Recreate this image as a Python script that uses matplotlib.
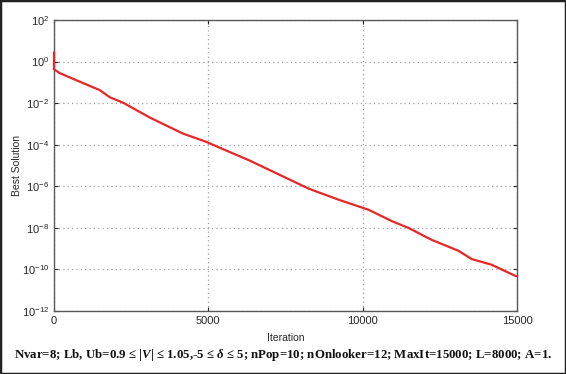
import matplotlib.pyplot as plt
import matplotlib.patches as mpatches
import numpy as np

# values (iteration, best solution)
iteration = [0, 0, 190, 950, 1480, 1810, 2240, 3100, 4170, 4930, 5360, 6320,
             8260, 9230, 10190, 10950, 11480, 12240, 13100, 13530, 14170, 14930, 15000]
best_log = [0.43, -0.37, -0.56, -1.04, -1.37, -1.72, -1.98, -2.69, -3.46, -3.86, -4.14, -4.75,
            -6.12, -6.65, -7.13, -7.68, -8.0, -8.58, -9.10, -9.5, -9.77, -10.3, -10.33]
best = [10 ** v for v in best_log]

xticks = [0, 5000, 10000, 15000]
yticks = [1e2, 1e0, 1e-2, 1e-4, 1e-6, 1e-8, 1e-10, 1e-12]

caption = ("Nvar=8; Lb, Ub=0.9 \u2264 |$V$| \u2264 1.05,-5 \u2264 $\\delta$ \u2264 5; "
           "nPop=10; nOnlooker=12; MaxIt=15000; L=8000; A=1.")

plt.rcParams['font.family'] = ['Liberation Sans', 'DejaVu Sans']
plt.rcParams['mathtext.fontset'] = 'custom'
plt.rcParams['mathtext.rm'] = 'Liberation Sans'
plt.rcParams['mathtext.it'] = 'Liberation Serif:italic:bold'

fig = plt.figure(figsize=(5.66, 3.74), dpi=100)
ax = fig.add_axes([54 / 566, 1 - 311 / 374, (517 - 54) / 566, (311 - 20) / 374])

ax.plot(iteration, best, color='#e8262a', lw=1.6, clip_on=False, zorder=5)
ax.set_yscale('log')
ax.set_xlim(0, 15000)
ax.set_ylim(1e-12, 1e2)
ax.set_xticks(xticks)
ax.set_xticklabels([str(t) for t in xticks])
ax.set_yticks(yticks)
ax.yaxis.set_minor_locator(plt.NullLocator())
ax.grid(True, ls=(0, (1, 2.5)), color='#a0a0a0', lw=0.9)
ax.tick_params(direction='in', top=True, right=True, labelsize=8,
               colors='#262626', length=3, width=0.8)
for s in ax.spines.values():
    s.set_color('#5a5a5a')
    s.set_linewidth(1.0)

ax.set_xlabel('Iteration', fontsize=7.5, color='#262626')
ax.set_ylabel('Best Solution', fontsize=7.5, color='#262626')
ax.xaxis.set_label_coords(0.5, -0.076)
ax.yaxis.set_label_coords(-0.069, 0.5)

fig.text(0.50, 1 - 355 / 374, caption, ha='center', va='center', fontsize=9.3,
         family='Liberation Serif', weight='bold', color='#111111')

fig.patches.append(mpatches.Rectangle((0, 0), 1, 1, transform=fig.transFigure,
                                      fill=False, edgecolor='#222222', lw=2.5))

fig.savefig('out.png', dpi=100)
